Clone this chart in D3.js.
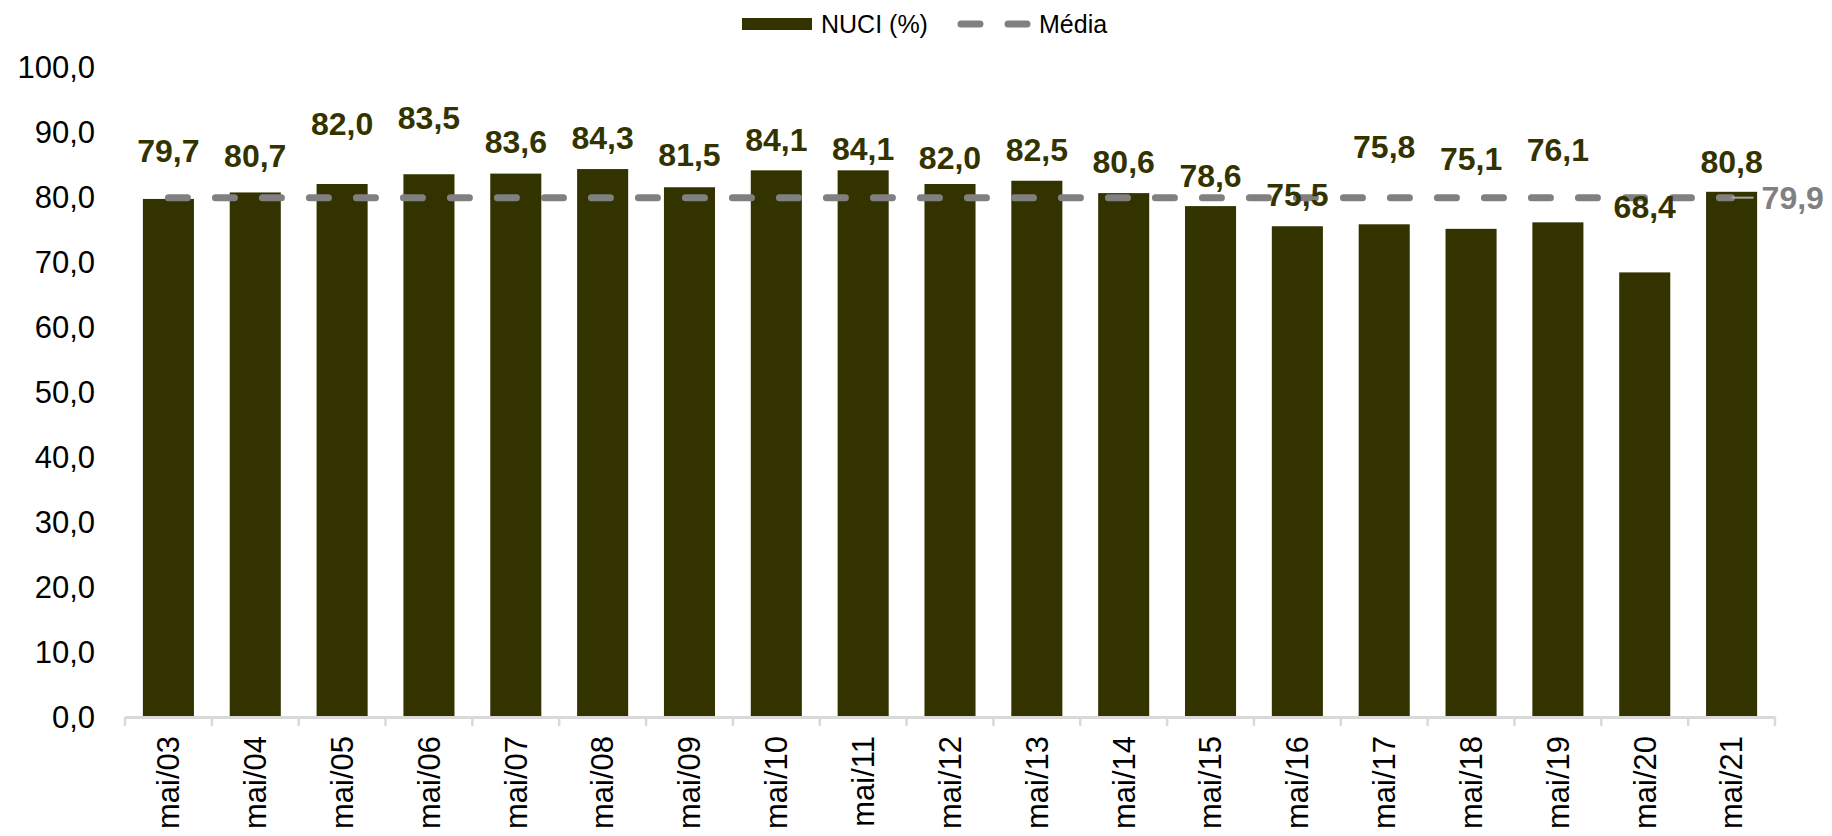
<!DOCTYPE html>
<html>
<head>
<meta charset="utf-8">
<script src="https://cdn.jsdelivr.net/npm/d3@7"></script>
<style>
  body { margin: 0; background: #fff; }
  svg text { font-family: "Liberation Sans", Arial, sans-serif; }
</style>
</head>
<body>
<svg width="1832" height="836"></svg>
<script>
var categories = ["mai/03", "mai/04", "mai/05", "mai/06", "mai/07", "mai/08", "mai/09", "mai/10",
    "mai/11", "mai/12", "mai/13", "mai/14", "mai/15", "mai/16", "mai/17", "mai/18", "mai/19", "mai/20", "mai/21"];
var nuci = [79.7, 80.7, 82.0, 83.5, 83.6, 84.3, 81.5, 84.1, 84.1, 82.0, 82.5, 80.6, 78.6, 75.5, 75.8, 75.1, 76.1, 68.4, 80.8];
var media = 79.9;
var yTicks = [0, 10, 20, 30, 40, 50, 60, 70, 80, 90, 100];
// px gap between bar top and label centre (labels were hand placed in the original)
var labelGap = [48, 37, 60, 56, 32, 31, 32, 31, 22, 26, 31, 31, 30, 31, 78, 70, 73, 66, 30];

function drawChart() {
    var svg = d3.select("svg"),
        margin = { top: 67, left: 125, right: 57, bottom: 119 },
        width = +svg.attr("width") - margin.left - margin.right,
        height = +svg.attr("height") - margin.top - margin.bottom;

    var barColor = "#333300", lineColor = "#808080", axisColor = "#d9d9d9";

    var locale = d3.formatLocale({ decimal: ",", thousands: ".", grouping: [3], currency: ["R$", ""] });
    var fmt = locale.format(".1f");

    var x = d3.scaleBand().domain(categories).range([0, width]).paddingInner(0.412).paddingOuter(0.206);
    var y = d3.scaleLinear().domain([0, 100]).range([height, 0]);
    var step = x.step();

    var g = svg.append("g")
        .attr("transform", "translate(" + margin.left + "," + margin.top + ")");

    // y axis labels only
    var yAxis = g.append("g")
        .call(d3.axisLeft(y).tickValues(yTicks).tickSize(0).tickPadding(30).tickFormat(fmt));
    yAxis.select(".domain").remove();
    yAxis.selectAll("text").attr("font-size", 31).attr("fill", "#000").attr("dy", "0.35em");

    // bars
    g.selectAll(".bar")
        .data(nuci)
        .enter().append("rect")
        .attr("class", "bar")
        .attr("x", function (d, i) { return x(categories[i]); })
        .attr("y", function (d) { return y(d); })
        .attr("width", x.bandwidth())
        .attr("height", function (d) { return height - y(d); })
        .attr("fill", barColor);

    // x axis
    var xAxis = g.append("g")
        .attr("transform", "translate(0," + height + ")")
        .call(d3.axisBottom(x).tickSize(0));
    xAxis.select(".domain").attr("stroke", axisColor).attr("stroke-width", 3);
    xAxis.selectAll(".tick text")
        .attr("font-size", 31)
        .attr("fill", "#000")
        .attr("transform", "rotate(-90)")
        .attr("text-anchor", "end")
        .attr("x", -19)
        .attr("y", 0)
        .attr("dy", "0.35em");
    xAxis.selectAll(".boundary")
        .data(d3.range(categories.length + 1))
        .enter().append("line")
        .attr("class", "boundary")
        .attr("x1", function (i) { return i * step; })
        .attr("x2", function (i) { return i * step; })
        .attr("y1", 0)
        .attr("y2", 9)
        .attr("stroke", axisColor)
        .attr("stroke-width", 2.5);

    // mean line
    var cx = function (c) { return x(c) + x.bandwidth() / 2; };
    var x0 = cx(categories[0]), x1 = cx(categories[categories.length - 1]);
    g.append("line")
        .attr("x1", x0).attr("x2", x1)
        .attr("y1", y(media)).attr("y2", y(media))
        .attr("stroke", lineColor)
        .attr("stroke-width", 7)
        .attr("stroke-linecap", "round")
        .attr("stroke-dasharray", "19,28");
    g.append("line")
        .attr("x1", x1).attr("x2", x1 + 22)
        .attr("y1", y(media)).attr("y2", y(media))
        .attr("stroke", "#a6a6a6")
        .attr("stroke-width", 2);
    g.append("text")
        .attr("x", x1 + 30)
        .attr("y", y(media))
        .attr("dy", "0.35em")
        .attr("font-size", 32)
        .attr("font-weight", "bold")
        .attr("fill", lineColor)
        .text(fmt(media));

    // value labels
    g.selectAll(".lbl")
        .data(nuci)
        .enter().append("text")
        .attr("class", "lbl")
        .attr("x", function (d, i) { return cx(categories[i]); })
        .attr("y", function (d, i) { return y(d) - labelGap[i]; })
        .attr("dy", "0.35em")
        .attr("text-anchor", "middle")
        .attr("font-size", 32)
        .attr("font-weight", "bold")
        .attr("fill", barColor)
        .text(function (d) { return fmt(d); });

    // legend
    var leg = svg.append("g").attr("transform", "translate(742,24)");
    leg.append("rect").attr("x", 0).attr("y", -6).attr("width", 70).attr("height", 12).attr("fill", barColor);
    leg.append("text").attr("x", 79).attr("y", 0).attr("dy", "0.35em").attr("font-size", 25).attr("fill", "#000").text("NUCI (%)");
    leg.append("line")
        .attr("x1", 219).attr("x2", 285).attr("y1", 0).attr("y2", 0)
        .attr("stroke", lineColor).attr("stroke-width", 7)
        .attr("stroke-linecap", "round").attr("stroke-dasharray", "19,28");
    leg.append("text").attr("x", 297).attr("y", 0).attr("dy", "0.35em").attr("font-size", 25).attr("fill", "#000").text("Média");
}

drawChart();
</script>
</body>
</html>
